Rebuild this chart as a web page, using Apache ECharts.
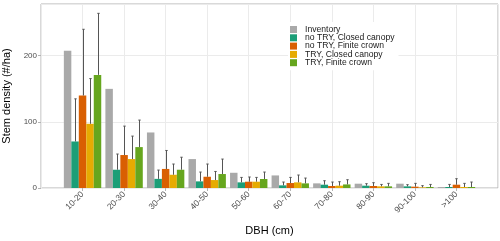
<!DOCTYPE html>
<html>
<head>
<meta charset="utf-8">
<script src="https://cdn.jsdelivr.net/npm/echarts@6/dist/echarts.min.js"></script>
<style>html,body{margin:0;padding:0;background:#fff}#c{width:500px;height:241px}</style>
</head>
<body>
<div id="c"></div>
<script>
const categories = ['10-20','20-30','30-40','40-50','50-60','60-70','70-80','80-90','90-100','>100'];
const seriesNames = ['Inventory','no TRY, Closed canopy','no TRY, Finite crown','TRY, Closed canopy','TRY, Finite crown'];
const inventory      = [207.5, 149.8, 83.9, 43.7, 23.0, 19.0, 7.0, 6.5, 6.5, 1.5];
const noTryClosed    = [70.3, 27.6, 13.8, 10.0, 8.5, 4.0, 5.0, 3.5, 2.5, 1.5];
const noTryFinite    = [139.7, 49.8, 28.8, 17.0, 9.5, 7.5, 3.0, 3.0, 2.0, 5.0];
const tryClosed      = [97.0, 43.7, 20.0, 12.0, 9.5, 8.5, 3.5, 2.5, 1.0, 1.5];
const tryFinite      = [170.9, 61.8, 27.6, 21.1, 13.6, 7.0, 5.4, 2.5, 1.5, 1.5];
const noTryClosedUp  = [134.7, 51.3, 27.1, 24.1, 16.0, 9.0, 11.0, 6.5, 5.0, 5.4];
const noTryFiniteUp  = [239.8, 93.5, 56.7, 36.2, 16.6, 16.0, 9.0, 8.0, 7.0, 14.0];
const tryClosedUp    = [165.3, 78.4, 36.2, 25.0, 16.0, 19.6, 9.5, 5.4, 3.5, 7.0];
const tryFiniteUp    = [263.9, 102.6, 46.5, 43.7, 24.1, 15.0, 12.5, 7.0, 5.4, 9.0];
const yTicks = [0, 100, 200];
const colors = ['#a9a9a9', '#1b9e77', '#d95f02', '#e6ab02', '#66a61e'];

const values = [inventory, noTryClosed, noTryFinite, tryClosed, tryFinite];
const uppers = [null, noTryClosedUp, noTryFiniteUp, tryClosedUp, tryFiniteUp];
const nSeries = values.length;
const catAxisData = [''].concat(categories, ['']);

const series = values.map((v, j) => ({
  name: seriesNames[j],
  type: 'bar',
  xAxisIndex: 0,
  yAxisIndex: 0,
  data: [null].concat(v, [null]),
  barGap: '0%',
  barCategoryGap: '10%',
  itemStyle: { color: colors[j] },
  emphasis: { disabled: true },
  silent: true,
  z: 3
}));

const errData = [];
uppers.forEach((u, j) => {
  if (!u) return;
  u.forEach((hi, i) => errData.push([i + 1, values[j][i], hi, j]));
});

series.push({
  type: 'custom',
  xAxisIndex: 0,
  yAxisIndex: 0,
  silent: true,
  z: 4,
  data: errData,
  renderItem: function (params, api) {
    const ci = api.value(0), lo = api.value(1), hi = api.value(2), j = api.value(3);
    const band = api.size([1, 0])[0];
    const bw = band * 0.9 / nSeries;
    const off = (j - (nSeries - 1) / 2) * bw;
    const pLo = api.coord([ci, lo]);
    const pHi = api.coord([ci, hi]);
    const x = Math.round(pLo[0] + off) + 0.5;
    const cap = 1.2;
    const st = { stroke: '#555555', lineWidth: 1 };
    return {
      type: 'group',
      children: [
        { type: 'line', shape: { x1: x, y1: pLo[1], x2: x, y2: pHi[1] }, style: st },
        { type: 'line', shape: { x1: x - cap, y1: pHi[1], x2: x + cap, y2: pHi[1] }, style: st }
      ]
    };
  }
});

const chart = echarts.init(document.getElementById('c'), null, { renderer: 'canvas' });
chart.setOption({
  animation: false,
  backgroundColor: '#ffffff',
  textStyle: { fontFamily: 'Liberation Sans, Arial, sans-serif' },
  grid: { left: 41, right: 2, top: 4, bottom: 53, show: true, borderColor: '#b3b3b3', borderWidth: 1, backgroundColor: 'transparent', containLabel: false, outerBoundsMode: 'none' },
  legend: {
    orient: 'vertical',
    left: 288,
    top: 22,
    data: seriesNames,
    itemWidth: 7,
    itemHeight: 7,
    itemGap: -0.7,
    icon: 'rect',
    backgroundColor: '#ffffff',
    padding: [3, 4, 3, 2],
    selectedMode: false,
    textStyle: { fontSize: 8.6, color: '#1a1a1a', lineHeight: 8, padding: [0, 0, 0, 3] },
    z: 10
  },
  xAxis: [
    {
      type: 'category',
      data: catAxisData,
      boundaryGap: false,
      axisLine: { show: false },
      axisTick: { show: true, length: 3, lineStyle: { color: '#b3b3b3' }, interval: function (i) { return i > 0 && i < catAxisData.length - 1; } },
      axisLabel: { rotate: 45, fontSize: 8.5, color: '#4d4d4d', margin: 5, interval: 0 },
      splitLine: { show: true, lineStyle: { color: '#ebebeb', width: 1 } },
      name: 'DBH (cm)',
      nameLocation: 'middle',
      nameGap: 37,
      nameTextStyle: { fontSize: 11, color: '#000000' }
    },
    {
      type: 'value',
      min: 0,
      max: catAxisData.length - 1,
      interval: 0.5,
      show: false,
      axisLabel: { show: false },
      splitLine: { show: true, lineStyle: { color: '#f3f3f3', width: 1 } }
    }
  ],
  yAxis: [
    {
      type: 'value',
      min: 0,
      max: 278,
      interval: 100,
      axisLine: { show: false },
      axisTick: { show: true, length: 3, lineStyle: { color: '#b3b3b3' } },
      axisLabel: { fontSize: 8, color: '#4d4d4d', margin: 4, showMaxLabel: false, formatter: function (v) { return yTicks.indexOf(v) >= 0 ? String(v) : ''; } },
      splitLine: { show: true, lineStyle: { color: '#ebebeb', width: 1 } },
      name: 'Stem density (#/ha)',
      nameLocation: 'middle',
      nameGap: 25,
      nameTextStyle: { fontSize: 11, color: '#000000' }
    },
    {
      type: 'value',
      min: 0,
      max: 278,
      interval: 50,
      show: false,
      splitLine: { show: true, lineStyle: { color: '#f3f3f3', width: 1 } }
    }
  ],
  series: series
});
</script>
</body>
</html>
